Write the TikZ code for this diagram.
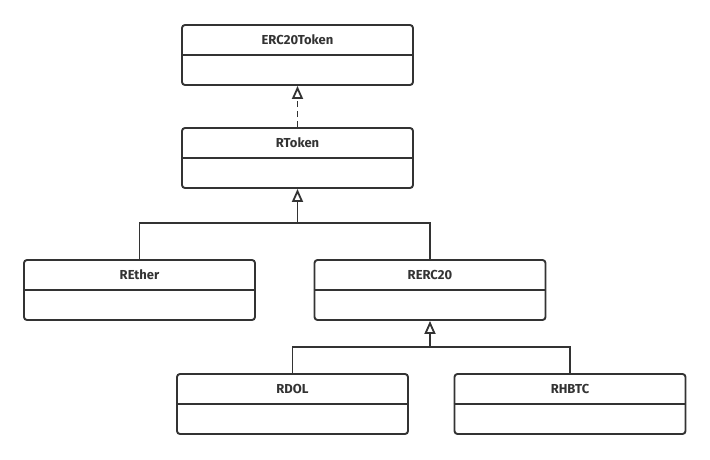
\documentclass[tikz,border=0pt]{standalone}
\usepackage{fontspec}
\usepackage{tikz}
\usepackage{xcolor}
\usetikzlibrary{arrows.meta,calc,positioning}
\setmainfont{Fira Sans}
\definecolor{UmlDark}{HTML}{333333}

\begin{document}
\begin{tikzpicture}[x=1pt, y=-1pt,
    classbox/.style={draw=UmlDark, line width=1.9pt, rounded corners=3pt,
                     minimum width=231pt, minimum height=60pt, inner sep=0pt,
                     fill=white},
    classname/.style={font=\fontsize{13}{15}\selectfont\bfseries,
                      text=UmlDark, inner sep=0pt},
    link/.style={draw=UmlDark, line width=1.9pt},
    inherit/.style={link, -{Triangle[open, length=13pt, width=11pt, line width=1.8pt]}},
    realize/.style={inherit, dash pattern=on 6pt off 4pt}
]
\useasboundingbox (0,0) rectangle (710,459);

% class boxes
\node[classbox] (erc) at (297.5,55) {};
\node[classbox] (rtoken) at (297.5,158) {};
\node[classbox] (rether) at (139.5,290) {};
\node[classbox] (rerc) at (430,290) {};
\node[classbox] (rdol) at (292.5,404) {};
\node[classbox] (rhbtc) at (570,404) {};

% compartments and names
\foreach \c/\t in {erc/ERC20Token, rtoken/RToken, rether/REther,
                   rerc/RERC20, rdol/RDOL, rhbtc/RHBTC} {
  \draw[link] (\c.west) -- (\c.east);
  \node[classname] (\c-name) at ($(\c.north)!0.5!(\c.center)$) {\t};
}

% junctions
\coordinate (j1) at (297.5,223);
\coordinate (j2) at (430,347);

\draw[realize] (rtoken.north) -- (erc.south);
\draw[link] (rether.north) |- (j1);
\draw[link] (rerc.north) |- (j1);
\draw[inherit] (j1) -- (rtoken.south);
\draw[link] (rdol.north) |- (j2);
\draw[link] (rhbtc.north) |- (j2);
\draw[inherit] (j2) -- (rerc.south);
\end{tikzpicture}
\end{document}
